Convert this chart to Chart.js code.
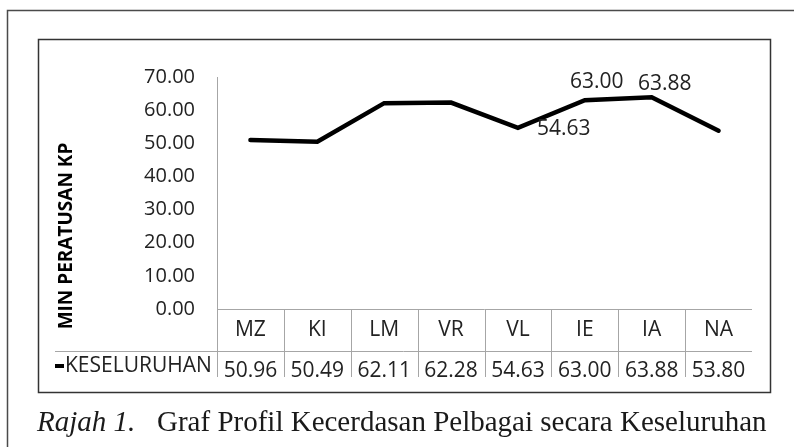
<!DOCTYPE html>
<html>
<head>
<meta charset="utf-8">
<script src="https://cdn.jsdelivr.net/npm/chart.js@4"></script>
<style>
  html, body { margin: 0; padding: 0; background: #fff; }
  #kotak { width: 794px; height: 447px; }
</style>
</head>
<body>
<div id="kotak"><canvas id="grafKeseluruhan" width="794" height="447"></canvas></div>
<script>
// ===================== Data =====================
var kategori = ["MZ", "KI", "LM", "VR", "VL", "IE", "IA", "NA"];
var nilaiKeseluruhan = [50.96, 50.49, 62.11, 62.28, 54.63, 63.00, 63.88, 53.80];
var namaSiri = "KESELURUHAN";
var labelDitunjuk = ["VL", "IE", "IA"];
var paksiYMin = 0;
var paksiYMax = 70;
var paksiYLangkah = 10;
var tajukPaksiY = "MIN PERATUSAN KP";
var kapsyenNo = "Rajah 1.";
var kapsyenTeks = "Graf Profil Kecerdasan Pelbagai secara Keseluruhan";

var FON = "'Open Sans', 'Noto Sans', sans-serif";
var warnaGaris = "#a6a6a6";
var warnaTeks = "#222";

// kedudukan label data (ofset dari titik)
var ofsetLabel = {
  VL: { dx: 19, dy: 1, align: "left" },
  IE: { dx: 12, dy: -18, align: "center" },
  IA: { dx: 13, dy: -13, align: "center" }
};

// ===================== Plugin: bingkai, jadual data, kapsyen =====================
var pluginJadual = {
  id: "jadualData",
  afterDraw: function (chart) {
    var ctx = chart.ctx;
    var x = chart.scales.x;
    var area = chart.chartArea;
    var kiri = area.left, kanan = area.right;
    var lebarLajur = (kanan - kiri) / kategori.length;
    var atasJadual = area.bottom;
    var barisDua = 351;
    var bawahJadual = 377;

    ctx.save();

    // bingkai luar
    ctx.strokeStyle = "#4a4a4a";
    ctx.lineWidth = 1.5;
    ctx.beginPath();
    ctx.moveTo(7.5, 460);
    ctx.lineTo(7.5, 10.5);
    ctx.lineTo(800, 10.5);
    ctx.stroke();

    // bingkai carta
    ctx.strokeStyle = "#333";
    ctx.lineWidth = 1.5;
    ctx.strokeRect(38.5, 39.5, 732, 353);

    // garisan jadual
    ctx.strokeStyle = warnaGaris;
    ctx.lineWidth = 1;
    ctx.beginPath();
    ctx.moveTo(kiri, atasJadual + 0.5);
    ctx.lineTo(kanan, atasJadual + 0.5);
    ctx.moveTo(55, barisDua + 0.5);
    ctx.lineTo(kanan, barisDua + 0.5);
    ctx.moveTo(kiri + 0.5, atasJadual);
    ctx.lineTo(kiri + 0.5, bawahJadual);
    for (var i = 1; i < kategori.length; i++) {
      var xb = Math.round(kiri + i * lebarLajur) + 0.5;
      ctx.moveTo(xb, atasJadual);
      ctx.lineTo(xb, bawahJadual);
    }
    ctx.stroke();

    // label kategori
    ctx.fillStyle = warnaTeks;
    ctx.font = "21px " + FON;
    ctx.textAlign = "center";
    ctx.textBaseline = "middle";
    kategori.forEach(function (k, i) {
      ctx.fillText(k, x.getPixelForValue(i), 330);
    });

    // nilai jadual (terpotong di bawah)
    ctx.save();
    ctx.beginPath();
    ctx.rect(0, barisDua + 1, 794, bawahJadual - barisDua - 1);
    ctx.clip();
    nilaiKeseluruhan.forEach(function (v, i) {
      ctx.fillText(v.toFixed(2), x.getPixelForValue(i), 371);
    });
    ctx.restore();

    // legenda
    ctx.strokeStyle = "#000";
    ctx.lineWidth = 4;
    ctx.beginPath();
    ctx.moveTo(55, 366);
    ctx.lineTo(64, 366);
    ctx.stroke();
    ctx.textAlign = "left";
    ctx.fillText(namaSiri, 65, 366);

    // tajuk paksi Y
    ctx.save();
    ctx.translate(67, 236);
    ctx.rotate(-Math.PI / 2);
    ctx.font = "bold 19px " + FON;
    ctx.fillStyle = "#000";
    ctx.textAlign = "center";
    ctx.textBaseline = "middle";
    ctx.fillText(tajukPaksiY, 0, 0);
    ctx.restore();

    // label data
    var meta = chart.getDatasetMeta(0);
    ctx.font = "21px " + FON;
    ctx.fillStyle = warnaTeks;
    ctx.textBaseline = "middle";
    labelDitunjuk.forEach(function (k) {
      var i = kategori.indexOf(k);
      var p = meta.data[i];
      var o = ofsetLabel[k];
      ctx.textAlign = o.align;
      ctx.fillText(nilaiKeseluruhan[i].toFixed(2), p.x + o.dx, p.y + o.dy);
    });

    // kapsyen
    ctx.fillStyle = "#1a1a1a";
    ctx.textAlign = "left";
    ctx.textBaseline = "alphabetic";
    ctx.font = "italic 29px 'Liberation Serif', 'DejaVu Serif', serif";
    ctx.fillText(kapsyenNo, 37, 431);
    ctx.font = "29px 'Liberation Serif', 'DejaVu Serif', serif";
    ctx.fillText(kapsyenTeks, 157, 431);

    ctx.restore();
  }
};

// ===================== Carta =====================
var chartKeseluruhan = new Chart(document.getElementById("grafKeseluruhan"), {
  type: "line",
  data: {
    labels: kategori,
    datasets: [{
      label: namaSiri,
      data: nilaiKeseluruhan,
      borderColor: "#000",
      borderWidth: 4.5,
      borderCapStyle: "round",
      borderJoinStyle: "miter",
      tension: 0,
      pointRadius: 0,
      fill: false
    }]
  },
  options: {
    responsive: false,
    animation: false,
    layout: { padding: { left: 0, right: 42, top: 77, bottom: 138 } },
    scales: {
      x: {
        display: false,
        offset: true
      },
      y: {
        min: paksiYMin,
        max: paksiYMax,
        afterFit: function (scale) { scale.width = 217; },
        grid: { display: false, drawTicks: false },
        border: { display: true, color: warnaGaris, width: 1 },
        ticks: {
          stepSize: paksiYLangkah,
          padding: 22,
          color: warnaTeks,
          font: { family: FON, size: 20 },
          callback: function (v) { return Number(v).toFixed(2); }
        }
      }
    },
    plugins: {
      legend: { display: false },
      tooltip: { enabled: false }
    }
  },
  plugins: [pluginJadual]
});
</script>
</body>
</html>
